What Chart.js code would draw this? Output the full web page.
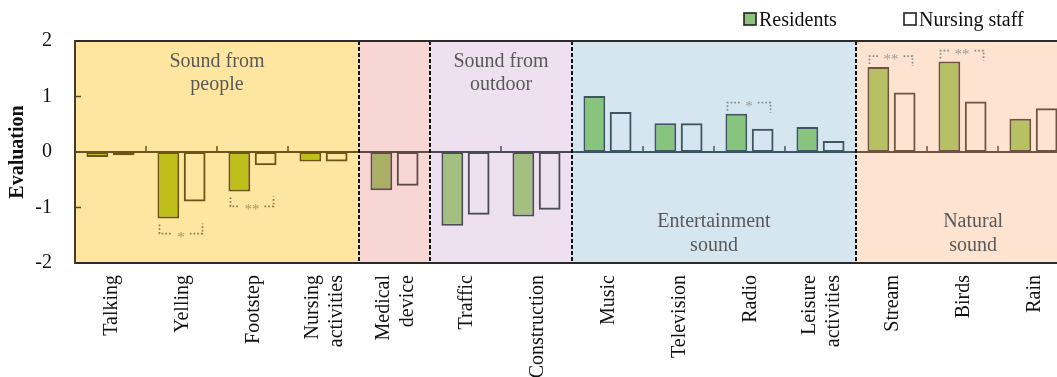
<!DOCTYPE html>
<html>
<head>
<meta charset="utf-8">
<script src="https://cdn.jsdelivr.net/npm/chart.js@4.4.1/dist/chart.umd.min.js"></script>
<style>
  html, body { margin: 0; padding: 0; background: #fff; overflow: hidden; }
  #wrap { position: relative; width: 1090px; height: 377px; }
</style>
</head>
<body>
<div id="wrap"><canvas id="c" width="1090" height="377"></canvas></div>
<script>
// ---- data ----
const categories = [
  ['Talking'], ['Yelling'], ['Footstep'], ['Nursing', 'activities'],
  ['Medical', 'device'],
  ['Traffic'], ['Construction'],
  ['Music'], ['Television'], ['Radio'], ['Leisure', 'activities'],
  ['Stream'], ['Birds'], ['Rain']
];
const residents    = [-0.09, -1.20, -0.71, -0.17, -0.69, -1.33, -1.16, 1.01, 0.52, 0.69, 0.45, 1.53, 1.63, 0.60];
const nursingStaff = [-0.06, -0.89, -0.24, -0.17, -0.61, -1.13, -1.04, 0.72, 0.52, 0.42, 0.20, 1.07, 0.91, 0.79];
const yTicks = [-2, -1, 0, 1, 2];

// sound-source groups (first / last category index) and their captions
const groupFirst  = [0, 4, 5, 7, 11];
const groupLast   = [3, 4, 6, 10, 13];
const groupTitles = [['Sound from', 'people'], [], ['Sound from', 'outdoor'], ['Entertainment', 'sound'], ['Natural', 'sound']];

// significant differences between residents and staff
const sigCategory = [1, 2, 9, 11, 12];
const sigMark     = ['*', '**', '*', '**', '**'];

// ---- styling ----
const SERIF = '"Liberation Serif", "Times New Roman", Times, serif';
const groupStyle = [
  { bg: '#FFE6A0', fill: '#BFBE1A', edge: '#6A5418', dots: '#8C7A48', note: '#A8916A', titleAt: 'top',    shift: 0 },
  { bg: '#F8D6D4', fill: '#A9B065', edge: '#5E4B45', dots: '#8A8A8A', note: '#9A9A9A', titleAt: 'top',    shift: 0 },
  { bg: '#EDE0EF', fill: '#A3C080', edge: '#4B4B57', dots: '#8A8A8A', note: '#9A9A9A', titleAt: 'top',    shift: 0 },
  { bg: '#D6E6F0', fill: '#88C47E', edge: '#3E5661', dots: '#8A8A8A', note: '#9A9A9A', titleAt: 'bottom', shift: 0 },
  { bg: '#FEE4D0', fill: '#B7C063', edge: '#6E5443', dots: '#8A8A8A', note: '#9A9A9A', titleAt: 'bottom', shift: 0.15 }
];
function groupOf(i) {
  for (let g = 0; g < groupFirst.length; g++) if (i >= groupFirst[g] && i <= groupLast[g]) return g;
  return 0;
}
const edgeColors = categories.map((_, i) => groupStyle[groupOf(i)].edge);
const fillColors = categories.map((_, i) => groupStyle[groupOf(i)].fill);

// backgrounds, zero line, inner ticks, captions, brackets, labels, legend
const panelPlugin = {
  id: 'panels',
  beforeDatasetsDraw(chart) {
    const { ctx, chartArea: a, scales: { x, y } } = chart;
    const y0 = y.getPixelForValue(0);
    ctx.save();
    for (let g = 0; g < groupFirst.length; g++) {
      const L = g === 0 ? a.left : (x.getPixelForValue(groupLast[g - 1]) + x.getPixelForValue(groupFirst[g])) / 2;
      const R = g === groupFirst.length - 1 ? a.right : (x.getPixelForValue(groupLast[g]) + x.getPixelForValue(groupFirst[g + 1])) / 2;
      ctx.fillStyle = groupStyle[g].bg;
      ctx.fillRect(L, a.top, R - L, a.bottom - a.top);
      // zero line
      ctx.strokeStyle = groupStyle[g].edge;
      ctx.lineWidth = 2;
      ctx.beginPath(); ctx.moveTo(L, y0); ctx.lineTo(R, y0); ctx.stroke();
      // small ticks between categories of the same group
      ctx.lineWidth = 1.5;
      for (let i = groupFirst[g]; i < groupLast[g]; i++) {
        const bx = (x.getPixelForValue(i) + x.getPixelForValue(i + 1)) / 2;
        ctx.beginPath(); ctx.moveTo(bx, y0); ctx.lineTo(bx, y0 - 6); ctx.stroke();
      }
    }
    // y-axis ticks pointing into the plot
    ctx.strokeStyle = '#5a4a2a';
    ctx.lineWidth = 1.5;
    yTicks.forEach(v => {
      if (v === yTicks[0] || v === yTicks[yTicks.length - 1]) return;
      const py = y.getPixelForValue(v);
      ctx.beginPath(); ctx.moveTo(a.left, py); ctx.lineTo(a.left + 6, py); ctx.stroke();
    });
    ctx.restore();
  },
  afterDatasetsDraw(chart) {
    const { ctx, chartArea: a, scales: { x, y } } = chart;
    ctx.save();
    // dashed separators between groups
    ctx.strokeStyle = '#111';
    ctx.lineWidth = 2;
    ctx.setLineDash([4, 2]);
    for (let g = 1; g < groupFirst.length; g++) {
      const bx = (x.getPixelForValue(groupLast[g - 1]) + x.getPixelForValue(groupFirst[g])) / 2;
      ctx.beginPath(); ctx.moveTo(bx, a.top); ctx.lineTo(bx, a.bottom); ctx.stroke();
    }
    ctx.setLineDash([]);
    // frame
    ctx.strokeStyle = '#2b2b2b';
    ctx.beginPath();
    ctx.moveTo(a.right + 5, a.top); ctx.lineTo(a.left, a.top);
    ctx.moveTo(a.left, a.bottom); ctx.lineTo(a.right + 5, a.bottom);
    ctx.stroke();
    ctx.strokeStyle = '#4a3c22';
    ctx.beginPath(); ctx.moveTo(a.left, a.top - 1); ctx.lineTo(a.left, a.bottom + 1); ctx.stroke();

    // group captions
    ctx.fillStyle = '#595959';
    ctx.font = '20px ' + SERIF;
    ctx.textAlign = 'center';
    ctx.textBaseline = 'middle';
    groupTitles.forEach((lines, g) => {
      if (!lines.length) return;
      const cx = x.getPixelForValue((groupFirst[g] + groupLast[g]) / 2 + groupStyle[g].shift);
      lines.forEach((t, j) => {
        const ty = groupStyle[g].titleAt === 'top' ? a.top + 21 + j * 23 : a.bottom - 41 + j * 24;
        ctx.fillText(t, cx, ty);
      });
    });

    // significance brackets
    const mr = chart.getDatasetMeta(0).data;
    const ms = chart.getDatasetMeta(1).data;
    sigCategory.forEach((ci, k) => {
      const st = groupStyle[groupOf(ci)];
      const rb = mr[ci], sb = ms[ci];
      const left = rb.x - rb.width / 2 + 2;
      const right = sb.x + sb.width / 2 - 3;
      const cx = (left + right) / 2;
      const below = residents[ci] < 0;
      let lineY, endL, endR;
      if (below) {
        const ext = Math.max(rb.y, sb.y);
        lineY = ext + 15; endL = ext + 6; endR = ext + 5;
      } else {
        const ext = Math.min(rb.y, sb.y);
        lineY = ext - 11; endL = ext - 3; endR = ext - 1;
      }
      ctx.font = '15px ' + SERIF;
      const tw = ctx.measureText(sigMark[k]).width;
      ctx.strokeStyle = st.dots;
      ctx.lineWidth = 1.7;
      ctx.setLineDash([1.7, 2]);
      ctx.beginPath();
      ctx.moveTo(left, endL); ctx.lineTo(left, lineY); ctx.lineTo(cx - tw / 2 - 5, lineY);
      ctx.moveTo(cx + tw / 2 + 5, lineY); ctx.lineTo(right, lineY); ctx.lineTo(right, endR);
      ctx.stroke();
      ctx.setLineDash([]);
      ctx.fillStyle = st.note;
      ctx.textAlign = 'center';
      ctx.textBaseline = 'alphabetic';
      ctx.fillText(sigMark[k], cx, lineY + 8);
    });

    // category labels, rotated
    ctx.fillStyle = '#111';
    ctx.font = '20px ' + SERIF;
    ctx.textAlign = 'right';
    ctx.textBaseline = 'middle';
    categories.forEach((lines, i) => {
      const px = x.getPixelForValue(i) + 1;
      lines.forEach((t, j) => {
        const lx = px + (j - (lines.length - 1) / 2) * 24;
        ctx.save();
        ctx.translate(lx, a.bottom + 12);
        ctx.rotate(-Math.PI / 2);
        ctx.fillText(t, 0, 0);
        ctx.restore();
      });
    });

    // legend
    const ds = chart.data.datasets;
    const legendX = [744, 904];
    ctx.font = '20px ' + SERIF;
    ctx.textAlign = 'left';
    ctx.textBaseline = 'alphabetic';
    ds.forEach((d, k) => {
      ctx.fillStyle = k === 0 ? '#8CC47C' : '#ffffff';
      ctx.fillRect(legendX[k], 13, 12, 12);
      ctx.strokeStyle = '#222';
      ctx.lineWidth = 1.6;
      ctx.strokeRect(legendX[k], 13, 12, 12);
      ctx.fillStyle = '#111';
      ctx.fillText(d.label, legendX[k] + 15, 26);
    });
    ctx.restore();
  }
};

new Chart(document.getElementById('c'), {
  type: 'bar',
  data: {
    labels: categories.map(l => l.join(' ')),
    datasets: [
      { label: 'Residents', data: residents, backgroundColor: fillColors, borderColor: edgeColors, borderWidth: 2, borderSkipped: false },
      { label: 'Nursing staff', data: nursingStaff, backgroundColor: 'rgba(0,0,0,0)', borderColor: edgeColors, borderWidth: 2, borderSkipped: false }
    ]
  },
  options: {
    responsive: false,
    animation: false,
    events: [],
    categoryPercentage: 0.74,
    barPercentage: 0.83,
    layout: { padding: { top: 41, right: 21, bottom: 114, left: 0 } },
    plugins: { legend: { display: false }, tooltip: { enabled: false } },
    scales: {
      x: {
        ticks: { display: false },
        grid: { display: false, drawTicks: false },
        border: { display: false }
      },
      y: {
        min: -2, max: 2,
        afterBuildTicks(s) { s.ticks = yTicks.map(v => ({ value: v })); },
        afterFit(s) { s.width = 75; },
        ticks: { padding: 23, color: '#111', font: { family: SERIF, size: 20 } },
        grid: { display: false, drawTicks: false },
        border: { display: false },
        title: {
          display: true, text: 'Evaluation', color: '#111',
          font: { family: SERIF, size: 20, weight: 'bold' },
          padding: { top: 6, bottom: 0 }
        }
      }
    }
  },
  plugins: [panelPlugin]
});
</script>
</body>
</html>
